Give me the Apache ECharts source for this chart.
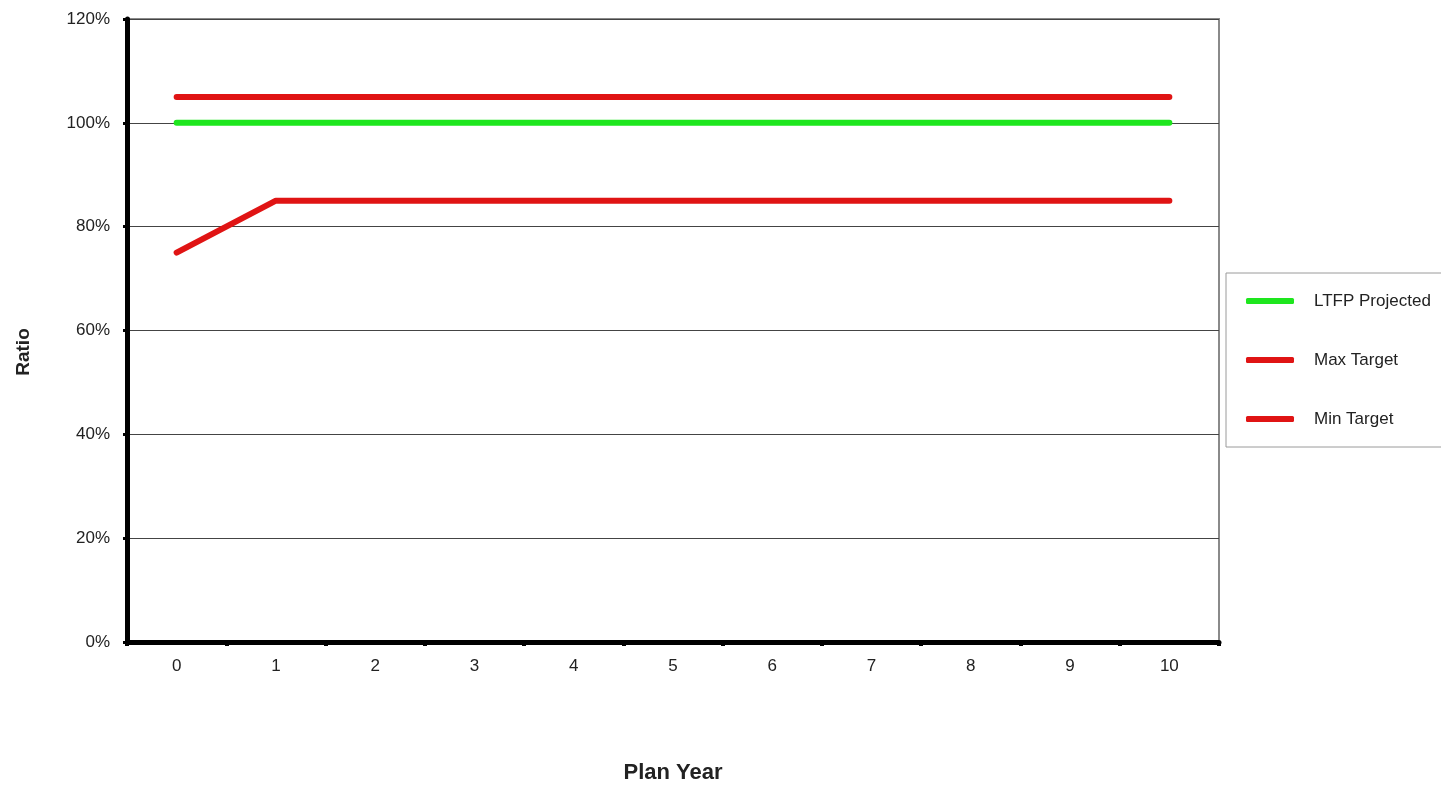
<!DOCTYPE html>
<html>
<head>
<meta charset="utf-8">
<script src="https://cdn.jsdelivr.net/npm/echarts@6/dist/echarts.min.js"></script>
<style>
html,body{margin:0;padding:0;background:#fff;}
#chart{width:1441px;height:791px;}
</style>
</head>
<body>
<div id="chart"></div>
<script>
const categories = ['0','1','2','3','4','5','6','7','8','9','10'];
const ltfpProjected = [100,100,100,100,100,100,100,100,100,100,100];
const maxTarget = [105,105,105,105,105,105,105,105,105,105,105];
const minTarget = [75,85,85,85,85,85,85,85,85,85,85];
const seriesNames = ['LTFP Projected','Max Target','Min Target'];
const yAxisTitle = 'Ratio';
const xAxisTitle = 'Plan Year';

const font = 'Arial, "Liberation Sans", sans-serif';
const chart = echarts.init(document.getElementById('chart'));
const lineStyle = (c) => ({ color: c, width: 6, cap: 'round', join: 'round' });
chart.setOption({
  animation: false,
  backgroundColor: '#fff',
  grid: { left: 127, top: 19, right: 222, bottom: 149, show: true, borderColor: '#8a8a8a', borderWidth: 2, backgroundColor: '#fff' },
  legend: {
    orient: 'vertical',
    left: 1226, top: 273,
    padding: [18, 40, 18, 20],
    itemGap: 39,
    itemWidth: 48, itemHeight: 6,
    icon: 'roundRect',
    borderColor: '#9a9a9a', borderWidth: 1,
    textStyle: { fontFamily: font, fontSize: 17, color: '#222', lineHeight: 20, padding: [0,0,0,15] },
    data: seriesNames
  },
  graphic: [{
    type: 'text',
    x: 24, y: 352,
    rotation: Math.PI / 2,
    style: { text: yAxisTitle, fontFamily: font, fontSize: 19, fontWeight: 'bold', fill: '#222', align: 'center', verticalAlign: 'middle' }
  }],
  xAxis: {
    type: 'category',
    data: categories,
    boundaryGap: true,
    name: xAxisTitle,
    nameLocation: 'middle',
    nameGap: 120,
    nameTextStyle: { fontFamily: font, fontSize: 22, fontWeight: 'bold', color: '#222', verticalAlign: 'top' },
    axisLine: { lineStyle: { color: '#000', width: 5 } },
    axisTick: { show: true, alignWithLabel: false, length: 4, lineStyle: { color: '#000', width: 4 } },
    axisLabel: { fontFamily: font, fontSize: 17, color: '#222', margin: 16 },
    splitLine: { show: false }
  },
  yAxis: {
    type: 'value',
    min: 0, max: 120, interval: 20,
    axisLine: { show: true, lineStyle: { color: '#000', width: 5 } },
    axisTick: { show: true, length: 4, lineStyle: { color: '#000', width: 3 } },
    axisLabel: { fontFamily: font, fontSize: 17, color: '#222', margin: 17, formatter: '{value}%' },
    splitLine: { show: true, lineStyle: { color: '#444', width: 1 } }
  },
  series: [
    { name: seriesNames[0], type: 'line', data: ltfpProjected, symbol: 'none', color: '#1ee61e', lineStyle: lineStyle('#1ee61e') },
    { name: seriesNames[1], type: 'line', data: maxTarget, symbol: 'none', color: '#e01414', lineStyle: lineStyle('#e01414') },
    { name: seriesNames[2], type: 'line', data: minTarget, symbol: 'none', color: '#e01414', lineStyle: lineStyle('#e01414') }
  ]
});
</script>
</body>
</html>
